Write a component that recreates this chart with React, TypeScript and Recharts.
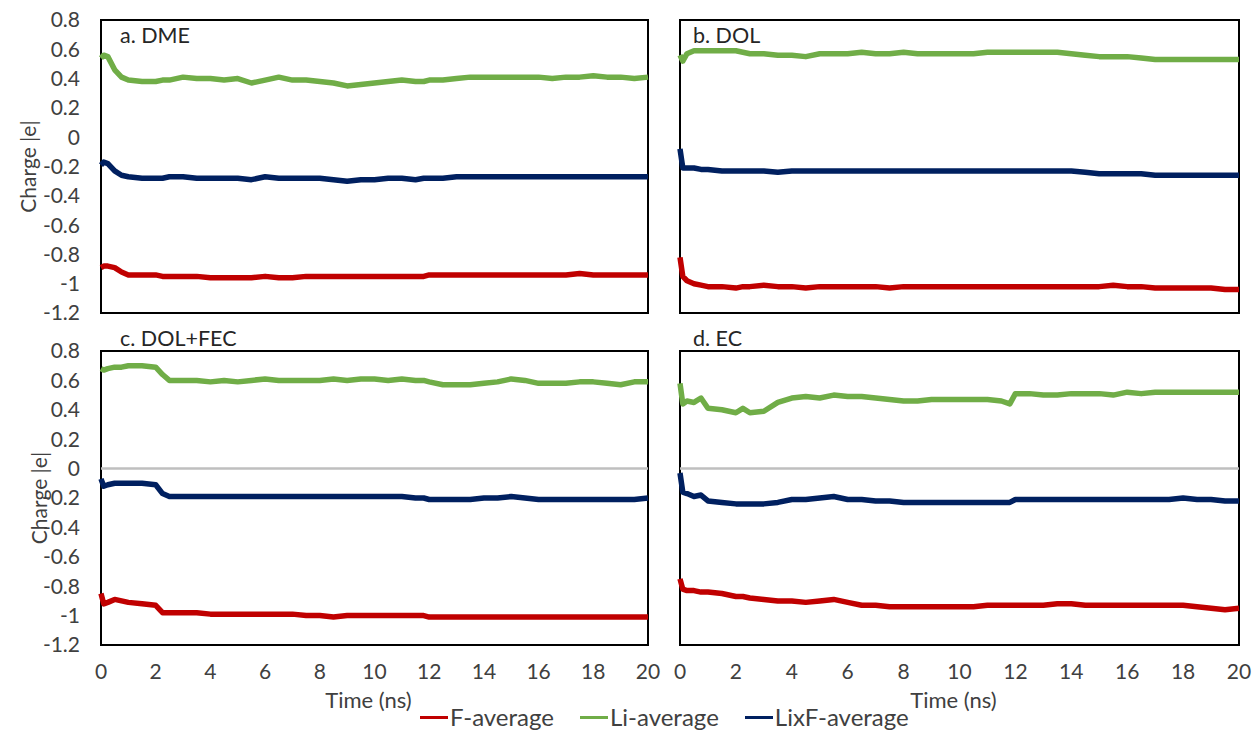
import React from "react";
import { LineChart, Line, XAxis, YAxis, ReferenceArea, ReferenceLine, Label } from "recharts";

// simulation time (ns)
const TIME = [
  0, 0.1, 0.25, 0.5, 0.75, 1, 1.5, 2, 2.25, 2.5,
  3, 3.5, 4, 4.5, 5, 5.5, 6, 6.5, 7, 7.5,
  8, 8.5, 9, 9.5, 10, 10.5, 11, 11.5, 11.8, 12,
  12.5, 13, 13.5, 14, 14.5, 15, 15.5, 16, 16.5, 17,
  17.5, 18, 18.5, 19, 19.5, 20,
];

const X_TICKS = [0, 2, 4, 6, 8, 10, 12, 14, 16, 18, 20];
const Y_TICKS = [-1.2, -1, -0.8, -0.6, -0.4, -0.2, 0, 0.2, 0.4, 0.6, 0.8];

// a. DME
const DME_F = [
  -0.89, -0.88, -0.88, -0.89, -0.92, -0.94, -0.94, -0.94, -0.95, -0.95,
  -0.95, -0.95, -0.96, -0.96, -0.96, -0.96, -0.95, -0.96, -0.96, -0.95,
  -0.95, -0.95, -0.95, -0.95, -0.95, -0.95, -0.95, -0.95, -0.95, -0.94,
  -0.94, -0.94, -0.94, -0.94, -0.94, -0.94, -0.94, -0.94, -0.94, -0.94,
  -0.93, -0.94, -0.94, -0.94, -0.94, -0.94,
];
const DME_LI = [
  0.54, 0.56, 0.55, 0.46, 0.41, 0.39, 0.38, 0.38, 0.39, 0.39,
  0.41, 0.4, 0.4, 0.39, 0.4, 0.37, 0.39, 0.41, 0.39, 0.39,
  0.38, 0.37, 0.35, 0.36, 0.37, 0.38, 0.39, 0.38, 0.38, 0.39,
  0.39, 0.4, 0.41, 0.41, 0.41, 0.41, 0.41, 0.41, 0.4, 0.41,
  0.41, 0.42, 0.41, 0.41, 0.4, 0.41,
];
const DME_LIXF = [
  -0.19, -0.17, -0.18, -0.23, -0.26, -0.27, -0.28, -0.28, -0.28, -0.27,
  -0.27, -0.28, -0.28, -0.28, -0.28, -0.29, -0.27, -0.28, -0.28, -0.28,
  -0.28, -0.29, -0.3, -0.29, -0.29, -0.28, -0.28, -0.29, -0.28, -0.28,
  -0.28, -0.27, -0.27, -0.27, -0.27, -0.27, -0.27, -0.27, -0.27, -0.27,
  -0.27, -0.27, -0.27, -0.27, -0.27, -0.27,
];

// b. DOL
const DOL_F = [
  -0.82, -0.95, -0.98, -1.0, -1.01, -1.02, -1.02, -1.03, -1.02, -1.02,
  -1.01, -1.02, -1.02, -1.03, -1.02, -1.02, -1.02, -1.02, -1.02, -1.03,
  -1.02, -1.02, -1.02, -1.02, -1.02, -1.02, -1.02, -1.02, -1.02, -1.02,
  -1.02, -1.02, -1.02, -1.02, -1.02, -1.02, -1.01, -1.02, -1.02, -1.03,
  -1.03, -1.03, -1.03, -1.03, -1.04, -1.04,
];
const DOL_LI = [
  0.56, 0.52, 0.57, 0.59, 0.59, 0.59, 0.59, 0.59, 0.58, 0.57,
  0.57, 0.56, 0.56, 0.55, 0.57, 0.57, 0.57, 0.58, 0.57, 0.57,
  0.58, 0.57, 0.57, 0.57, 0.57, 0.57, 0.58, 0.58, 0.58, 0.58,
  0.58, 0.58, 0.58, 0.57, 0.56, 0.55, 0.55, 0.55, 0.54, 0.53,
  0.53, 0.53, 0.53, 0.53, 0.53, 0.53,
];
const DOL_LIXF = [
  -0.08, -0.21, -0.21, -0.21, -0.22, -0.22, -0.23, -0.23, -0.23, -0.23,
  -0.23, -0.24, -0.23, -0.23, -0.23, -0.23, -0.23, -0.23, -0.23, -0.23,
  -0.23, -0.23, -0.23, -0.23, -0.23, -0.23, -0.23, -0.23, -0.23, -0.23,
  -0.23, -0.23, -0.23, -0.23, -0.24, -0.25, -0.25, -0.25, -0.25, -0.26,
  -0.26, -0.26, -0.26, -0.26, -0.26, -0.26,
];

// c. DOL+FEC
const FEC_F = [
  -0.85, -0.92, -0.91, -0.89, -0.9, -0.91, -0.92, -0.93, -0.98, -0.98,
  -0.98, -0.98, -0.99, -0.99, -0.99, -0.99, -0.99, -0.99, -0.99, -1.0,
  -1.0, -1.01, -1.0, -1.0, -1.0, -1.0, -1.0, -1.0, -1.0, -1.01,
  -1.01, -1.01, -1.01, -1.01, -1.01, -1.01, -1.01, -1.01, -1.01, -1.01,
  -1.01, -1.01, -1.01, -1.01, -1.01, -1.01,
];
const FEC_LI = [
  0.68, 0.67, 0.68, 0.69, 0.69, 0.7, 0.7, 0.69, 0.64, 0.6,
  0.6, 0.6, 0.59, 0.6, 0.59, 0.6, 0.61, 0.6, 0.6, 0.6,
  0.6, 0.61, 0.6, 0.61, 0.61, 0.6, 0.61, 0.6, 0.6, 0.59,
  0.57, 0.57, 0.57, 0.58, 0.59, 0.61, 0.6, 0.58, 0.58, 0.58,
  0.59, 0.59, 0.58, 0.57, 0.59, 0.59,
];
const FEC_LIXF = [
  -0.07, -0.12, -0.11, -0.1, -0.1, -0.1, -0.1, -0.11, -0.17, -0.19,
  -0.19, -0.19, -0.19, -0.19, -0.19, -0.19, -0.19, -0.19, -0.19, -0.19,
  -0.19, -0.19, -0.19, -0.19, -0.19, -0.19, -0.19, -0.2, -0.2, -0.21,
  -0.21, -0.21, -0.21, -0.2, -0.2, -0.19, -0.2, -0.21, -0.21, -0.21,
  -0.21, -0.21, -0.21, -0.21, -0.21, -0.2,
];

// d. EC
const EC_F = [
  -0.75, -0.82, -0.83, -0.83, -0.84, -0.84, -0.85, -0.87, -0.87, -0.88,
  -0.89, -0.9, -0.9, -0.91, -0.9, -0.89, -0.91, -0.93, -0.93, -0.94,
  -0.94, -0.94, -0.94, -0.94, -0.94, -0.94, -0.93, -0.93, -0.93, -0.93,
  -0.93, -0.93, -0.92, -0.92, -0.93, -0.93, -0.93, -0.93, -0.93, -0.93,
  -0.93, -0.93, -0.94, -0.95, -0.96, -0.95,
];
const EC_LI = [
  0.58, 0.44, 0.46, 0.45, 0.48, 0.41, 0.4, 0.38, 0.41, 0.38,
  0.39, 0.45, 0.48, 0.49, 0.48, 0.5, 0.49, 0.49, 0.48, 0.47,
  0.46, 0.46, 0.47, 0.47, 0.47, 0.47, 0.47, 0.46, 0.44, 0.51,
  0.51, 0.5, 0.5, 0.51, 0.51, 0.51, 0.5, 0.52, 0.51, 0.52,
  0.52, 0.52, 0.52, 0.52, 0.52, 0.52,
];
const EC_LIXF = [
  -0.03, -0.16, -0.17, -0.19, -0.18, -0.22, -0.23, -0.24, -0.24, -0.24,
  -0.24, -0.23, -0.21, -0.21, -0.2, -0.19, -0.21, -0.21, -0.22, -0.22,
  -0.23, -0.23, -0.23, -0.23, -0.23, -0.23, -0.23, -0.23, -0.23, -0.21,
  -0.21, -0.21, -0.21, -0.21, -0.21, -0.21, -0.21, -0.21, -0.21, -0.21,
  -0.21, -0.2, -0.21, -0.21, -0.22, -0.22,
];

const SERIES = [
  { key: "f", name: "F-average", color: "#C00000" },
  { key: "li", name: "Li-average", color: "#70AD47" },
  { key: "lixf", name: "LixF-average", color: "#002060" },
];

const FONT = "Lato, 'Open Sans', sans-serif";
const TEXT = "#404040";

const rows = (f: number[], li: number[], lixf: number[]) =>
  TIME.map((t, i) => ({ t, f: f[i], li: li[i], lixf: lixf[i] }));

const fmt = (v: number) => String(Number(v.toFixed(1)));

type PanelCfg = {
  title: string;
  data: ReturnType<typeof rows>;
  left: number;
  top: number;
  width: number;
  height: number;
  yAxis: boolean;
  xAxis: boolean;
  zero: boolean;
  yLabelX: number;
  titleLeft: number;
  titleTop: number;
};

const PANELS: PanelCfg[] = [
  { title: "a. DME", data: rows(DME_F, DME_LI, DME_LIXF), left: 0, top: 0, width: 652, height: 320, yAxis: true, xAxis: false, zero: false, yLabelX: 27, titleLeft: 120, titleTop: 22 },
  { title: "b. DOL", data: rows(DOL_F, DOL_LI, DOL_LIXF), left: 676, top: 0, width: 567, height: 320, yAxis: false, xAxis: false, zero: false, yLabelX: 0, titleLeft: 693, titleTop: 22 },
  { title: "c. DOL+FEC", data: rows(FEC_F, FEC_LI, FEC_LIXF), left: 0, top: 331, width: 652, height: 400, yAxis: true, xAxis: true, zero: true, yLabelX: 38, titleLeft: 120, titleTop: 325 },
  { title: "d. EC", data: rows(EC_F, EC_LI, EC_LIXF), left: 676, top: 331, width: 567, height: 400, yAxis: false, xAxis: true, zero: true, yLabelX: 0, titleLeft: 693, titleTop: 325 },
];

function Panel({ p }: { p: PanelCfg }) {
  const tick = { fontSize: 21, fill: TEXT, fontFamily: FONT };
  return (
    <div style={{ position: "absolute", left: p.left, top: p.top }}>
      <LineChart
        width={p.width}
        height={p.height}
        data={p.data}
        margin={{ top: 20, right: 4, bottom: p.xAxis ? 0 : 7, left: p.yAxis ? 0 : 4 }}
      >
        <XAxis
          dataKey="t"
          type="number"
          domain={[0, 20]}
          ticks={X_TICKS}
          hide={!p.xAxis}
          height={86}
          axisLine={false}
          tickLine={false}
          tickSize={0}
          tickMargin={19}
          tick={tick}
          interval={0}
        >
          <Label value="Time (ns)" position="insideBottom" offset={23} dx={-6} style={{ fontSize: 22, fill: TEXT, fontFamily: FONT }} />
        </XAxis>
        <YAxis
          type="number"
          domain={[-1.2, 0.8]}
          ticks={Y_TICKS}
          hide={!p.yAxis}
          width={101}
          axisLine={false}
          tickLine={false}
          tickSize={0}
          tickMargin={21}
          tick={tick}
          tickFormatter={fmt}
          interval={0}
        >
          <Label
            content={(props: any) => {
              const vb = props.viewBox || {};
              const cx = (vb.x || 0) + p.yLabelX;
              const cy = (vb.y || 0) + (vb.height || 0) / 2;
              return (
                <text
                  x={cx}
                  y={cy}
                  transform={`rotate(-90, ${cx}, ${cy})`}
                  textAnchor="middle"
                  dominantBaseline="central"
                  fontSize={21}
                  fill={TEXT}
                  fontFamily={FONT}
                >
                  Charge |e|
                </text>
              );
            }}
          />
        </YAxis>
        {p.zero && <ReferenceLine y={0} stroke="#BFBFBF" strokeWidth={2.5} />}
        {SERIES.map((s) => (
          <Line
            key={s.key}
            type="linear"
            dataKey={s.key}
            name={s.name}
            stroke={s.color}
            strokeWidth={5.5}
            strokeLinejoin="round"
            dot={false}
            isAnimationActive={false}
          />
        ))}
        <ReferenceArea x1={0} x2={20} y1={-1.2} y2={0.8} fill="none" fillOpacity={0} stroke="#000" strokeWidth={2} ifOverflow="visible" />
      </LineChart>
      <div
        style={{
          position: "absolute",
          left: p.titleLeft - p.left,
          top: p.titleTop - p.top,
          fontFamily: FONT,
          fontSize: 21.5,
          lineHeight: "26px",
          color: "#262626",
          whiteSpace: "nowrap",
        }}
      >
        {p.title}
      </div>
    </div>
  );
}

export default function App() {
  return (
    <div style={{ position: "absolute", left: 0, top: 0, width: 1253, height: 733, background: "#fff", overflow: "hidden" }}>
      <style>{".recharts-surface, .recharts-wrapper { overflow: visible !important; }"}</style>
      {PANELS.map((p) => (
        <Panel key={p.title} p={p} />
      ))}
      <div
        style={{
          position: "absolute",
          left: 420,
          top: 703,
          display: "flex",
          alignItems: "center",
          gap: 26,
          fontFamily: FONT,
          fontSize: 24,
          color: TEXT,
          lineHeight: "28px",
        }}
      >
        {SERIES.map((s) => (
          <div key={s.key} style={{ display: "flex", alignItems: "center" }}>
            <span style={{ display: "inline-block", width: 28, height: 3, background: s.color, marginRight: 2 }} />
            <span>{s.name}</span>
          </div>
        ))}
      </div>
    </div>
  );
}
